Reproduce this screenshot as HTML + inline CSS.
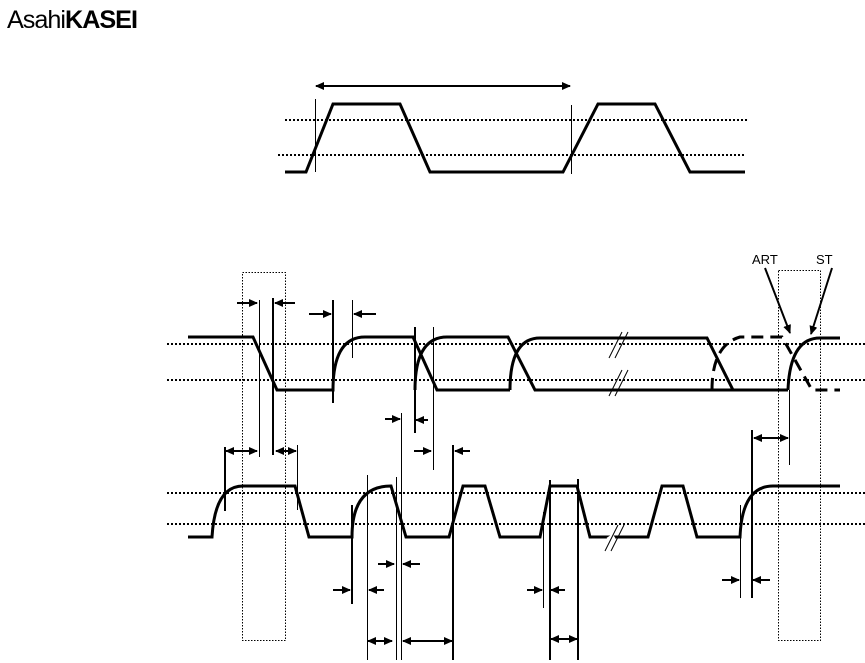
<!DOCTYPE html>
<html><head><style>body{margin:0;background:#fff}svg{display:block}</style></head><body>
<svg width="865" height="663" viewBox="0 0 865 663" xmlns="http://www.w3.org/2000/svg" font-family="Liberation Sans, sans-serif">
<defs>
<marker id="a" markerWidth="9" markerHeight="8" refX="8" refY="4" orient="auto" markerUnits="userSpaceOnUse"><path d="M0,0L9,4L0,8z" fill="#000"/></marker>
<marker id="b" markerWidth="9" markerHeight="8" refX="1" refY="4" orient="auto" markerUnits="userSpaceOnUse"><path d="M9,0L0,4L9,8z" fill="#000"/></marker>
</defs>
<text x="7" y="28" font-size="25" textLength="130" lengthAdjust="spacingAndGlyphs" letter-spacing="-1">Asahi<tspan font-weight="bold">KASEI</tspan></text>
<g stroke="#000" stroke-width="2" stroke-dasharray="2,2" fill="none">
<line x1="285" y1="120" x2="748" y2="120"/><line x1="278" y1="155" x2="745" y2="155"/>
<line x1="167" y1="344" x2="865" y2="344"/><line x1="167" y1="380" x2="865" y2="380"/>
<line x1="167" y1="493" x2="865" y2="493"/><line x1="167" y1="524" x2="865" y2="524"/>
</g>
<g stroke="#000" stroke-width="1" stroke-dasharray="1.5,1.5" fill="none">
<rect x="242.5" y="272.5" width="43" height="368"/><rect x="778.5" y="270.5" width="42" height="370"/>
</g>
<g stroke="#000" stroke-width="3" fill="none" stroke-linejoin="miter">
<path d="M285,172H306L333,104H400L430,172H563L598,104H655L690,172H745"/>
<path d="M188,337H253L277,390H333Q333,337 365,337H413L437,390H510"/>
<path d="M415,390Q415,337 447,337H508L535,390H788"/>
<path d="M510,390Q510,338 540,338H707L733,390"/>
<path d="M788,390Q790,338 820,338H840"/>
<path d="M712,390Q712,345 740,337H782L812,390H840" stroke-dasharray="12,7"/>
<path d="M188,537H212Q215,486 243,486H295L309,537H352Q352,486 391,486L406,537H449L463,486H485L500,537H540L550,486H577L590,537H648L662,486H683L697,537H740Q742,486 773,486H840"/>
</g>
<g stroke="#fff" stroke-width="5"><path d="M612,348L618,344M612,386L618,382M608,540L614,536"/></g>
<g stroke="#000" stroke-width="1" fill="none">
<path d="M622,332L609,358M628,332L615,358M622,370L609,396M628,370L615,396M618,525L605,551M624,525L611,551"/>
</g>
<g stroke="#000" stroke-width="1" fill="none">
<line x1="315.5" y1="99" x2="315.5" y2="172"/><line x1="571.5" y1="105" x2="571.5" y2="174"/>
<line x1="259.5" y1="300" x2="259.5" y2="457"/><line x1="352.5" y1="300" x2="352.5" y2="358"/>
<line x1="433.5" y1="327" x2="433.5" y2="470"/><line x1="401.5" y1="413" x2="401.5" y2="660"/>
<line x1="297.5" y1="445" x2="297.5" y2="510"/><line x1="367.5" y1="475" x2="367.5" y2="660"/>
<line x1="396.5" y1="477" x2="396.5" y2="660"/><line x1="543.5" y1="512" x2="543.5" y2="608"/>
<line x1="740.5" y1="505" x2="740.5" y2="598"/><line x1="789.5" y1="390" x2="789.5" y2="465"/>
</g>
<g stroke="#000" stroke-width="2" fill="none">
<line x1="273" y1="298" x2="273" y2="455"/><line x1="333" y1="300" x2="333" y2="403"/>
<line x1="415" y1="327" x2="415" y2="433"/><line x1="453" y1="445" x2="453" y2="660"/>
<line x1="225" y1="447" x2="225" y2="511"/><line x1="352" y1="505" x2="352" y2="604"/>
<line x1="550" y1="480" x2="550" y2="660"/><line x1="578" y1="479" x2="578" y2="660"/>
<line x1="752" y1="430" x2="752" y2="598"/>
</g>
<g stroke="#000" stroke-width="2" fill="none">
<line x1="316" y1="86" x2="570" y2="86" marker-start="url(#b)" marker-end="url(#a)"/>
<line x1="237" y1="303" x2="257" y2="303" marker-end="url(#a)"/><line x1="295" y1="303" x2="275" y2="303" marker-end="url(#a)"/>
<line x1="309" y1="314" x2="331" y2="314" marker-end="url(#a)"/><line x1="376" y1="314" x2="354" y2="314" marker-end="url(#a)"/>
<line x1="385" y1="419" x2="400" y2="419" marker-end="url(#a)"/><line x1="428" y1="420" x2="416" y2="420" marker-end="url(#a)"/>
<line x1="414" y1="451" x2="431" y2="451" marker-end="url(#a)"/><line x1="470" y1="451" x2="455" y2="451" marker-end="url(#a)"/>
<line x1="226" y1="451" x2="257" y2="451" marker-start="url(#b)" marker-end="url(#a)"/>
<line x1="276" y1="451" x2="296" y2="451" marker-start="url(#b)" marker-end="url(#a)"/>
<line x1="378" y1="564" x2="394" y2="564" marker-end="url(#a)"/><line x1="420" y1="564" x2="403" y2="564" marker-end="url(#a)"/>
<line x1="333" y1="590" x2="350" y2="590" marker-end="url(#a)"/><line x1="384" y1="590" x2="369" y2="590" marker-end="url(#a)"/>
<line x1="368" y1="641" x2="392" y2="641" marker-start="url(#b)" marker-end="url(#a)"/>
<line x1="403" y1="641" x2="452" y2="641" marker-start="url(#b)" marker-end="url(#a)"/>
<line x1="527" y1="590" x2="542" y2="590" marker-end="url(#a)"/><line x1="565" y1="590" x2="551" y2="590" marker-end="url(#a)"/>
<line x1="551" y1="639" x2="577" y2="639" marker-start="url(#b)" marker-end="url(#a)"/>
<line x1="722" y1="580" x2="739" y2="580" marker-end="url(#a)"/><line x1="770" y1="580" x2="753" y2="580" marker-end="url(#a)"/>
<line x1="754" y1="438" x2="788" y2="438" marker-start="url(#b)" marker-end="url(#a)"/>
<line x1="765" y1="268" x2="790" y2="333" marker-end="url(#a)"/>
<line x1="832" y1="268" x2="811" y2="334" marker-end="url(#a)"/>
</g>
<text x="752" y="264" font-size="13">ART</text>
<text x="816" y="264" font-size="13">ST</text>
</svg>
</body></html>
